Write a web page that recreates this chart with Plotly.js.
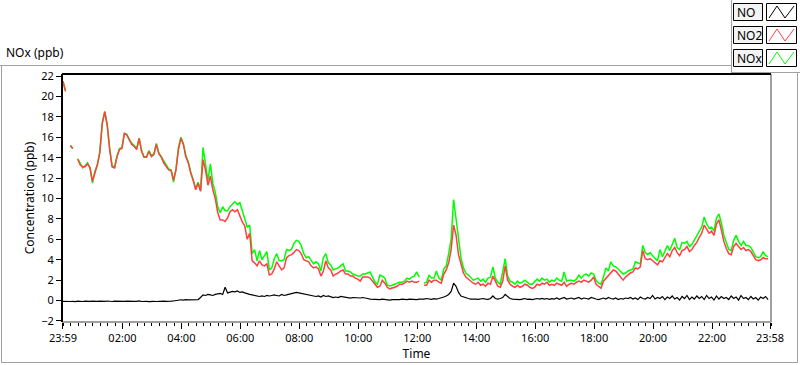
<!DOCTYPE html>
<html>
<head>
<meta charset="utf-8">
<script src="https://cdn.plot.ly/plotly-3.0.1.min.js"></script>
<style>html,body{margin:0;padding:0;background:#fff;}#chart{width:800px;height:365px;}</style>
</head>
<body>
<div id="chart"></div>
<script>
// ---- data (5-minute samples starting 23:59) ----
const stepMinutes = 5;
const seriesNames = ['NO', 'NO2', 'NOx'];
const tickMinutes = [0, 121, 241, 361, 481, 601, 721, 841, 961, 1081, 1201, 1321, 1439];
const tickLabels = ['23:59', '02:00', '04:00', '06:00', '08:00', '10:00', '12:00', '14:00', '16:00', '18:00', '20:00', '22:00', '23:58'];

const NO2 = [
21.5,20.5,null,15.2,14.9,null,13.85,13.3,13.1,13.1,
13.4,13.0,11.7,12.6,13.3,14.5,17.4,18.5,17.2,14.8,
13.1,13.0,14.1,14.8,14.9,16.4,16.2,15.75,15.3,15.1,
14.8,15.9,14.6,14.05,14.05,14.6,14.1,14.3,15.3,14.4,
14.05,13.5,13.1,12.8,12.75,11.8,12.8,14.8,15.9,15.3,
14.1,13.5,12.5,11.8,10.85,11.5,10.7,13.8,12.8,11.3,
12.2,10.85,10.0,8.6,7.9,7.9,7.75,8.1,8.7,8.9,
8.7,8.9,8.3,7.7,7.3,6.0,6.6,3.9,3.7,3.4,
3.9,3.5,3.4,3.6,2.5,2.6,3.1,3.8,3.4,3.0,
3.2,4.2,4.4,4.5,4.7,5.0,4.9,4.6,4.0,3.9,
3.8,3.4,3.2,3.3,3.1,2.4,2.9,3.9,3.2,3.0,
2.4,2.6,2.7,2.9,3.0,2.6,2.6,2.4,2.4,2.2,
2.1,1.9,2.3,2.3,2.3,2.2,1.9,1.5,1.3,1.4,
2.0,1.7,1.3,1.15,1.2,1.3,1.4,1.6,1.6,1.7,
1.9,1.8,1.9,1.8,1.8,1.9,null,1.5,1.5,2.0,
1.8,2.0,2.0,1.8,1.7,2.6,3.0,3.7,5.0,7.4,
6.4,4.5,3.6,2.7,2.3,2.1,1.9,1.7,1.6,1.8,
1.5,1.6,1.4,1.7,1.6,2.4,1.9,1.4,1.3,1.9,
3.4,2.0,1.6,1.4,1.3,1.5,1.3,1.4,1.6,1.5,
1.3,1.2,1.3,1.6,1.5,1.7,1.6,1.8,1.5,1.6,
1.5,1.7,1.6,1.5,1.8,1.4,1.6,1.7,1.6,1.8,
1.9,1.8,2.0,1.9,1.8,2.0,2.3,1.6,1.4,1.2,
1.9,2.2,2.5,2.7,3.0,2.9,2.6,2.3,2.0,2.3,
2.5,2.7,2.8,3.2,3.1,3.3,4.9,4.1,4.0,4.1,
3.9,3.7,3.5,3.9,3.8,4.2,4.6,4.3,4.9,5.2,
4.7,4.4,4.9,5.0,5.3,4.8,5.0,5.4,5.7,6.2,
6.6,7.4,7.0,6.6,6.8,6.4,7.5,7.9,6.9,5.8,
5.1,4.6,4.5,5.3,5.6,5.3,5.0,5.2,4.9,5.0,
4.8,4.4,4.0,3.9,4.0,4.2,4.1,4.1
];

const NOx = [
21.5,20.6,null,15.2,14.9,null,13.9,13.4,13.0,13.2,
13.5,13.0,11.5,12.7,13.3,14.6,17.4,18.5,17.3,14.9,
13.2,13.1,14.2,14.9,15.0,16.4,16.3,15.8,15.4,15.2,
14.9,15.9,14.7,14.1,14.1,14.7,14.2,14.4,15.4,14.5,
14.1,13.6,13.2,12.9,12.8,11.6,12.9,15.0,16.0,15.4,
14.2,13.6,12.6,11.9,11.0,11.6,10.8,15.0,13.2,11.8,
13.4,11.5,10.6,9.2,8.6,9.2,8.8,8.8,9.2,9.5,
9.7,9.4,9.6,8.8,8.0,7.2,7.4,4.6,5.0,3.9,
4.9,4.0,4.4,4.8,3.0,3.2,4.1,4.6,3.9,3.9,
4.0,5.0,4.9,5.0,5.6,5.9,5.8,5.4,4.6,4.2,
4.3,3.9,3.6,3.8,3.6,2.9,4.2,4.6,3.7,3.5,
3.0,3.1,3.2,3.4,3.6,2.9,2.9,2.8,2.6,2.5,
2.4,2.4,2.6,2.6,2.7,2.8,2.3,1.8,1.6,2.5,
2.4,2.2,1.5,1.45,1.5,1.6,1.7,1.8,1.8,1.9,
2.2,2.1,2.3,2.4,2.8,2.3,null,1.7,1.8,2.5,
2.2,2.2,2.9,2.2,2.0,3.1,3.4,4.6,6.0,9.9,
8.0,5.6,4.2,3.2,2.7,2.5,2.2,2.0,2.1,2.2,
1.9,2.1,1.8,2.2,2.3,3.3,2.2,1.8,1.6,2.7,
4.1,2.4,1.9,1.8,1.6,1.9,1.7,1.8,2.0,1.8,
1.6,1.6,1.9,2.1,1.9,2.2,2.0,2.1,1.8,2.0,
1.9,2.2,2.0,1.9,2.8,1.9,2.0,2.0,1.9,2.1,
2.5,2.2,2.5,2.6,2.4,2.7,2.6,2.0,1.7,1.6,
2.3,3.2,2.9,3.8,3.4,3.3,3.1,2.8,2.6,2.7,
2.9,3.0,3.1,3.8,3.7,3.6,5.4,4.7,4.5,4.7,
4.4,4.1,3.9,5.0,4.3,4.8,5.4,4.9,5.6,6.1,
5.2,5.0,5.7,5.6,5.8,5.3,5.5,5.9,6.3,6.7,
7.2,8.2,7.5,7.1,7.2,6.8,8.1,8.5,7.6,6.4,
5.7,5.0,4.9,5.9,6.4,5.8,5.4,5.8,5.4,5.4,
5.2,4.8,4.3,4.2,4.3,4.8,4.4,4.3
];

const NO = [
-0.08,-0.1,-0.06,-0.09,-0.07,-0.1,-0.05,-0.08,-0.09,-0.06,
-0.1,-0.07,-0.05,-0.09,-0.08,-0.06,-0.1,-0.07,-0.04,-0.08,
-0.09,-0.06,-0.08,-0.05,-0.1,-0.07,-0.06,-0.09,-0.05,-0.08,
-0.07,-0.04,-0.09,-0.06,-0.08,-0.1,-0.05,-0.07,-0.09,-0.06,
-0.08,-0.05,-0.07,-0.09,-0.06,-0.04,0.0,0.05,0.08,0.05,
0.1,0.06,0.08,0.12,0.15,0.1,0.3,0.55,0.5,0.6,
0.55,0.5,0.6,0.65,0.7,0.6,1.3,0.75,0.85,0.9,
0.85,0.95,0.8,0.85,0.75,0.65,0.6,0.55,0.5,0.45,
0.4,0.45,0.4,0.5,0.45,0.5,0.55,0.5,0.45,0.6,
0.5,0.55,0.6,0.7,0.75,0.8,0.75,0.7,0.6,0.55,
0.5,0.45,0.4,0.4,0.45,0.35,0.5,0.4,0.45,0.35,
0.3,0.35,0.3,0.4,0.35,0.3,0.3,0.25,0.3,0.28,
0.3,0.25,0.3,0.28,0.2,0.15,0.12,0.1,0.12,0.1,
0.15,0.1,0.08,0.05,0.1,0.08,0.12,0.1,0.15,0.12,
0.1,0.15,0.12,0.15,0.1,0.15,0.12,0.15,0.2,0.15,
0.12,0.18,0.15,0.2,0.25,0.35,0.45,0.6,0.9,1.7,
1.4,0.8,0.45,0.35,0.25,0.2,0.15,0.18,0.15,0.12,
0.15,0.2,0.15,0.12,0.2,0.45,0.2,0.15,0.2,0.3,
0.6,0.35,0.2,0.15,0.12,0.15,0.1,0.15,0.2,0.12,
0.15,0.1,0.18,0.2,0.15,0.22,0.15,0.2,0.12,0.18,
0.15,0.25,0.12,0.2,0.3,0.15,0.2,0.25,0.15,0.2,
0.3,0.15,0.25,0.2,0.15,0.3,0.2,0.15,0.1,0.2,
0.25,0.15,0.3,0.2,0.15,0.25,0.1,0.2,0.15,0.25,
0.2,0.3,0.15,0.25,0.1,0.35,0.2,0.15,0.3,0.2,
0.5,0.15,0.3,0.2,0.4,0.1,0.35,0.2,0.45,0.15,
0.3,0.05,0.4,0.2,0.5,0.1,0.35,0.15,0.45,0.2,
0.4,0.1,0.5,0.2,0.35,0.05,0.45,0.15,0.4,0.2,
0.3,0.1,0.45,0.2,0.35,0.05,0.5,0.2,0.3,0.1,
0.4,0.15,0.3,0.05,0.35,0.2,0.4,0.1
];

const seriesColors = {NO: '#000000', NO2: '#ff4040', NOx: '#00ff00'};

// ---- geometry helpers (pixel -> paper) ----
const L = 62, R = 771, T = 74, B = 322;
const fx = p => (p - L) / (R - L);
const fy = p => (B - p) / (B - T);
const minutes = NO2.map((_, i) => i * stepMinutes);

const traces = [
  {x: minutes, y: NOx, name: 'NOx', type: 'scatter', mode: 'lines', line: {color: seriesColors.NOx, width: 1.5}, connectgaps: false},
  {x: minutes, y: NO2, name: 'NO2', type: 'scatter', mode: 'lines', line: {color: seriesColors.NO2, width: 1.5}, connectgaps: false},
  {x: minutes, y: NO, name: 'NO', type: 'scatter', mode: 'lines', line: {color: seriesColors.NO, width: 1.2}}
];

const grey = '#a0a0a0';
const shapes = [];
function line(x0, y0, x1, y1, color, w) {
  shapes.push({type: 'line', xref: 'paper', yref: 'paper', x0: fx(x0), y0: fy(y0), x1: fx(x1), y1: fy(y1), line: {color: color, width: w}});
}
function rect(x0, y0, x1, y1, fill, color) {
  shapes.push({type: 'rect', xref: 'paper', yref: 'paper', x0: fx(x0), y0: fy(y0), x1: fx(x1), y1: fy(y1), fillcolor: fill, line: {color: color, width: 1}});
}
// outer frame
line(0, 65.5, 731, 65.5, grey, 1);
line(1.5, 65, 1.5, 363, grey, 1);
line(1, 362.5, 798, 362.5, grey, 1);
line(797.5, 73, 797.5, 363, grey, 1);
line(731.5, 0, 731.5, 73, grey, 1);
line(731, 72.5, 800, 72.5, grey, 1);
// plot frame
line(R, T, R, B, grey, 2);
line(L, B, R, B, grey, 2);
line(L, T, R, T, '#000', 2);
line(L, T, L, B, '#000', 2);

// legend
const annotations = [];
const legendOrder = ['NO', 'NO2', 'NOx'];
legendOrder.forEach((nm, i) => {
  const y0 = 3 + 23 * i, y1 = y0 + 17;
  rect(733.5, y0 + 0.5, 762.5, y1 + 0.5, '#f4f4f4', '#000');
  rect(766.5, y0 + 0.5, 796.5, y1 + 0.5, '#ffffff', '#000');
  const path = 'M ' + fx(769) + ' ' + fy(y1 - 2) + ' L ' + fx(777) + ' ' + fy(y0 + 3) + ' L ' + fx(785) + ' ' + fy(y1 - 2) + ' L ' + fx(794) + ' ' + fy(y0 + 3);
  shapes.push({type: 'path', xref: 'paper', yref: 'paper', path: path, line: {color: seriesColors[nm], width: 1}});
  annotations.push({xref: 'paper', yref: 'paper', x: fx(735), y: fy((y0 + y1) / 2 + 0.5), xanchor: 'left', yanchor: 'middle', text: nm, showarrow: false, font: {size: 12, color: '#000'}});
});
annotations.push({xref: 'paper', yref: 'paper', x: fx(4), y: fy(53), xanchor: 'left', yanchor: 'middle', text: 'NOx (ppb)', showarrow: false, font: {size: 12, color: '#000'}});

const layout = {
  width: 800, height: 365,
  margin: {l: L, r: 800 - R, t: T, b: 365 - B, pad: 0},
  paper_bgcolor: '#ffffff', plot_bgcolor: '#ffffff',
  font: {family: 'Noto Sans, sans-serif', size: 12, color: '#000'},
  showlegend: false,
  xaxis: {
    range: [-2, 1441], showgrid: false, zeroline: false, showline: false,
    tickmode: 'array', tickvals: tickMinutes, ticktext: tickLabels,
    ticks: 'outside', ticklen: 6, tickwidth: 1, tickcolor: '#000',
    tickfont: {size: 11, color: '#000'},
    minor: {tickmode: 'linear', tick0: 1, dtick: 15, ticks: 'outside', ticklen: 3, tickwidth: 1, tickcolor: '#000', showgrid: false},
    title: {text: 'Time', font: {size: 12, color: '#000'}, standoff: 2},
    automargin: false
  },
  yaxis: {
    range: [-2.1, 22.2], showgrid: false, zeroline: false, showline: false,
    tickmode: 'linear', tick0: 0, dtick: 2,
    ticks: 'outside', ticklen: 5, tickwidth: 1, tickcolor: '#000',
    tickfont: {size: 11, color: '#000'},
    title: {text: 'Concentration (ppb)', font: {size: 12, color: '#000'}, standoff: 4},
    automargin: false
  },
  shapes: shapes,
  annotations: annotations
};

Plotly.newPlot('chart', traces, layout, {staticPlot: true, displayModeBar: false});
</script>
</body>
</html>
